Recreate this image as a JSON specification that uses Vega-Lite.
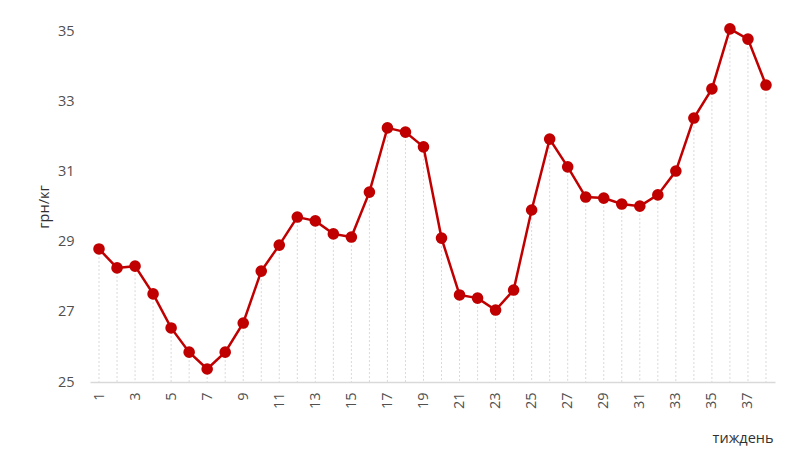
{
  "$schema": "https://vega.github.io/schema/vega-lite/v6.json",
  "autosize": "none",
  "width": 685,
  "height": 351,
  "padding": {"left": 90, "top": 31, "right": 25, "bottom": 85},
  "background": "white",
  "config": {
    "view": {"stroke": null},
    "font": "Open Sans",
    "axis": {"labelFont": "Open Sans", "titleFont": "Open Sans", "labelColor": "#505050", "titleColor": "#303030", "labelFontSize": 14.5, "titleFontSize": 14.5, "titleFontWeight": "normal"}
  },
  "data": {"values": [
    {"week": 1, "price": 28.79}, {"week": 2, "price": 28.25}, {"week": 3, "price": 28.30},
    {"week": 4, "price": 27.51}, {"week": 5, "price": 26.54}, {"week": 6, "price": 25.85},
    {"week": 7, "price": 25.37}, {"week": 8, "price": 25.85}, {"week": 9, "price": 26.68},
    {"week": 10, "price": 28.16}, {"week": 11, "price": 28.90}, {"week": 12, "price": 29.70},
    {"week": 13, "price": 29.59}, {"week": 14, "price": 29.22}, {"week": 15, "price": 29.13},
    {"week": 16, "price": 30.41}, {"week": 17, "price": 32.24}, {"week": 18, "price": 32.12},
    {"week": 19, "price": 31.70}, {"week": 20, "price": 29.10}, {"week": 21, "price": 27.48},
    {"week": 22, "price": 27.39}, {"week": 23, "price": 27.05}, {"week": 24, "price": 27.62},
    {"week": 25, "price": 29.90}, {"week": 26, "price": 31.92}, {"week": 27, "price": 31.13},
    {"week": 28, "price": 30.27}, {"week": 29, "price": 30.24}, {"week": 30, "price": 30.07},
    {"week": 31, "price": 30.01}, {"week": 32, "price": 30.33}, {"week": 33, "price": 31.01},
    {"week": 34, "price": 32.52}, {"week": 35, "price": 33.35}, {"week": 36, "price": 35.06},
    {"week": 37, "price": 34.77}, {"week": 38, "price": 33.46}
  ]},
  "encoding": {
    "x": {
      "field": "week", "type": "ordinal",
      "scale": {"type": "point", "padding": 0.5},
      "axis": {
        "values": [1,3,5,7,9,11,13,15,17,19,21,23,25,27,29,31,33,35,37],
        "labelAngle": -90, "labelAlign": "right", "labelBaseline": "middle",
        "labelPadding": 10, "ticks": false, "grid": false,
        "domainColor": "#d9d9d9", "domainWidth": 1.5,
        "title": "тиждень", "titleX": 683, "titleY": 56, "titleAlign": "right", "titleBaseline": "middle"
      }
    },
    "y": {
      "field": "price", "type": "quantitative",
      "scale": {"domain": [25, 35], "nice": false, "zero": false},
      "axis": {
        "values": [25,27,29,31,33,35], "domain": false, "ticks": false, "grid": false,
        "labelPadding": 16, "title": "грн/кг", "titleX": -46, "titleBaseline": "middle", "titleAngle": -90
      }
    }
  },
  "layer": [
    {
      "mark": {"type": "rule", "color": "#d9d9d9", "strokeDash": [2, 2], "strokeWidth": 1},
      "encoding": {"y2": {"datum": 25}}
    },
    {
      "mark": {"type": "line", "color": "#c00000", "strokeWidth": 2.5}
    },
    {
      "mark": {"type": "point", "filled": true, "color": "#c00000", "size": 135, "opacity": 1}
    }
  ]
}
